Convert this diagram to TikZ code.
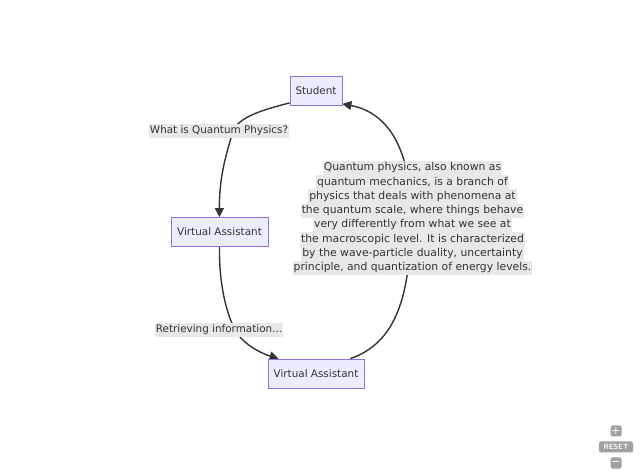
\documentclass[tikz,border=0pt]{standalone}
\usepackage{fontspec}
\setmainfont{DejaVu Sans}
\usetikzlibrary{arrows.meta,backgrounds}
\definecolor{nodefill}{HTML}{ECECFF}
\definecolor{nodeline}{HTML}{9370DB}
\definecolor{ink}{HTML}{333333}
\definecolor{lblbg}{HTML}{E8E8E8}
\definecolor{ctrl}{HTML}{A0A0A0}
\begin{document}
\begin{tikzpicture}[x=1pt,y=1pt,
  actor/.style={draw=nodeline, fill=nodefill, line width=0.8pt, minimum height=29pt,
    inner xsep=0pt, text=ink, font=\fontsize{10.4}{12}\selectfont},
  lbl/.style={fill=lblbg, inner xsep=1pt, inner ysep=1.6pt, text height=8.3pt, text depth=2.7pt,
    text=ink, font=\fontsize{10.4}{12}\selectfont},
  biglbl/.style={lbl, font=\fontsize{10.8}{12}\selectfont},
  flow/.style={draw=ink, line width=1.4pt, -{Triangle[length=9pt,width=9pt]}},
  ctrlbox/.style={fill=ctrl, rounded corners=1.5pt, text=white, inner sep=0pt,
    font=\fontsize{7.5}{7.5}\sffamily\bfseries}]
\useasboundingbox (0,0) rectangle (640,474);

\node[actor, minimum width=52pt] (S) at (316,383) {Student};
\node[actor, minimum width=97pt] (VA1) at (219.5,242) {Virtual Assistant};
\node[actor, minimum width=96pt] (VA2) at (316,100.5) {Virtual Assistant};

\node[lbl] (L1) at (219,343) {What is Quantum Physics?};
\node[lbl] (L2) at (219,144) {Retrieving information...};
\coordinate (P1) at (233,343);
\coordinate (P2) at (235,144);

\foreach \t [count=\i] in {
  {Quantum physics, also known as},
  {quantum mechanics, is a branch of},
  {physics that deals with phenomena at},
  {the quantum scale, where things behave},
  {very differently from what we see at},
  {the macroscopic level. It is characterized},
  {by the wave-particle duality, uncertainty},
  {principle, and quantization of energy levels.}} {
  \node[biglbl] (R\i) at (412.5, {306 - 14.3*(\i-1)}) {\t};
}
\coordinate (R0) at (411,257);

\begin{scope}[on background layer]
\fill[white] (0,0) rectangle (640,474);
\draw[flow] ([yshift=3pt]S.south west) .. controls (262,364) and (239,357) .. (P1)
   .. controls (228,325) and (219,300) .. (VA1.north);
\draw[flow] (VA1.south) .. controls (219,190) and (226,162) .. (P2)
   .. controls (243,130) and (260,121) .. ([xshift=11pt]VA2.north west);
\draw[flow] ([xshift=-14pt]VA2.north east) .. controls (392,130) and (411,170) .. (R0)
   .. controls (411,330) and (385,362) .. ([yshift=2pt]S.south east);
\end{scope}

\node[ctrlbox, minimum width=11pt, minimum height=11pt] (zin) at (616,43) {\fontsize{10}{10}\selectfont +};
\node[ctrlbox, minimum width=34pt, minimum height=11pt] (reset) at (616,27) {RESET};
\node[ctrlbox, minimum width=11pt, minimum height=11pt] (zout) at (616,11) {\fontsize{10}{10}\selectfont −};
\end{tikzpicture}
\end{document}
